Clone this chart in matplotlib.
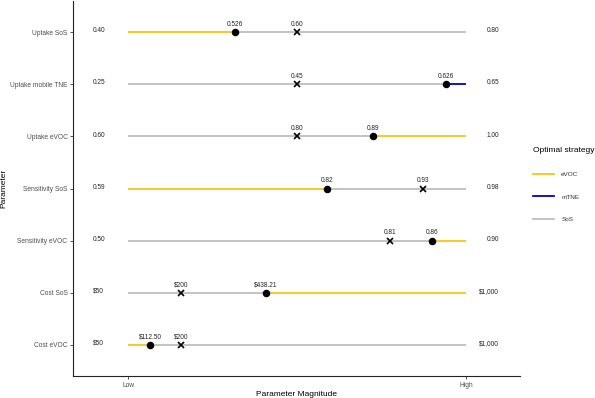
import matplotlib
matplotlib.use("Agg")
import matplotlib.pyplot as plt
from matplotlib.lines import Line2D

plt.rcParams['font.family'] = ['Liberation Sans', 'DejaVu Sans']

# ---- data (bottom row first) ----
params = ['Cost eVOC', 'Cost SoS', 'Sensitivity eVOC', 'Sensitivity SoS',
          'Uptake eVOC', 'Uptake mobile TNE', 'Uptake SoS']
low_vals = [50, 50, 0.50, 0.59, 0.60, 0.25, 0.40]
high_vals = [1000, 1000, 0.90, 0.98, 1.00, 0.65, 0.80]
base_vals = [200, 200, 0.81, 0.93, 0.80, 0.45, 0.60]
threshold_vals = [112.50, 438.21, 0.86, 0.82, 0.89, 0.626, 0.526]
below_strategy = ['eVOC', 'SoS', 'SoS', 'eVOC', 'SoS', 'SoS', 'eVOC']
above_strategy = ['SoS', 'eVOC', 'eVOC', 'SoS', 'eVOC', 'mTNE', 'SoS']
low_labels = ['$50', '$50', '0.50', '0.59', '0.60', '0.25', '0.40']
high_labels = ['$1,000', '$1,000', '0.90', '0.98', '1.00', '0.65', '0.80']
base_labels = ['$200', '$200', '0.81', '0.93', '0.80', '0.45', '0.60']
threshold_labels = ['$112.50', '$438.21', '0.86', '0.82', '0.89', '0.626', '0.526']
strategies = ['eVOC', 'mTNE', 'SoS']
strategy_colors = {'eVOC': '#F5C710', 'mTNE': '#0000CD', 'SoS': '#BEBEBE'}
x_ticks = [0, 1]
x_ticklabels = ['Low', 'High']

fig = plt.figure(figsize=(5.95, 3.98), dpi=100)
ax = fig.add_axes([73/595, 22/398, (520-73)/595, (397-22)/398])

lw = 1.3
txt_fs = 4.7
for i, p in enumerate(params):
    lo, hi = low_vals[i], high_vals[i]
    t = (threshold_vals[i] - lo) / (hi - lo)
    b = (base_vals[i] - lo) / (hi - lo)
    ax.plot([0, t], [i, i], color=strategy_colors[below_strategy[i]], lw=lw,
            solid_capstyle='butt', zorder=2)
    ax.plot([t, 1], [i, i], color=strategy_colors[above_strategy[i]], lw=lw,
            solid_capstyle='butt', zorder=2)
    ax.plot([b], [i], marker='x', color='black', ms=4.2, mew=1.2, zorder=3)
    ax.plot([t], [i], marker='o', color='black', ms=4.4, zorder=4)
    ax.annotate(base_labels[i], (b, i), xytext=(0, 3), textcoords='offset points',
                ha='center', va='bottom', fontsize=txt_fs, color='#222222')
    ax.annotate(threshold_labels[i], (t, i), xytext=(0, 3), textcoords='offset points',
                ha='center', va='bottom', fontsize=txt_fs, color='#222222')
    ax.annotate(low_labels[i], (-0.104, i), xytext=(0, 1), textcoords='offset points',
                ha='left', va='center', fontsize=txt_fs, color='#222222')
    ax.annotate(high_labels[i], (1.098, i), xytext=(0, 1), textcoords='offset points',
                ha='right', va='center', fontsize=txt_fs, color='#222222')

ax.set_xlim(-0.163, 1.16)
ax.set_ylim(-0.6, len(params) - 0.4)
ax.set_yticks(range(len(params)))
ax.set_yticklabels(params)
ax.set_xticks(x_ticks)
ax.set_xticklabels(x_ticklabels)
ax.tick_params(axis='both', labelsize=4.75, labelcolor='#4D4D4D', color='#333333',
               length=2.5, width=0.6, pad=1.5)
for s in ['top', 'right']:
    ax.spines[s].set_visible(False)
for s in ['left', 'bottom']:
    ax.spines[s].set_color('#222222')
    ax.spines[s].set_linewidth(0.8)
ax.set_xlabel('Parameter Magnitude', fontsize=6, labelpad=1.5)
ax.set_ylabel('Parameter', fontsize=6, labelpad=1.5)

handles = [Line2D([0], [0], color=strategy_colors[s], lw=lw) for s in strategies]
leg = fig.legend(handles, strategies, title='Optimal strategy', loc='upper left',
                 bbox_to_anchor=(528/595, 1 - 142/398), frameon=False,
                 fontsize=4.6, title_fontsize=6, handlelength=3.3,
                 handletextpad=1.1, labelspacing=2.7, borderpad=0.3)
leg._legend_box.align = 'left'
for t in leg.get_texts():
    t.set_color('#333333')

fig.savefig('out.png', dpi=100)
